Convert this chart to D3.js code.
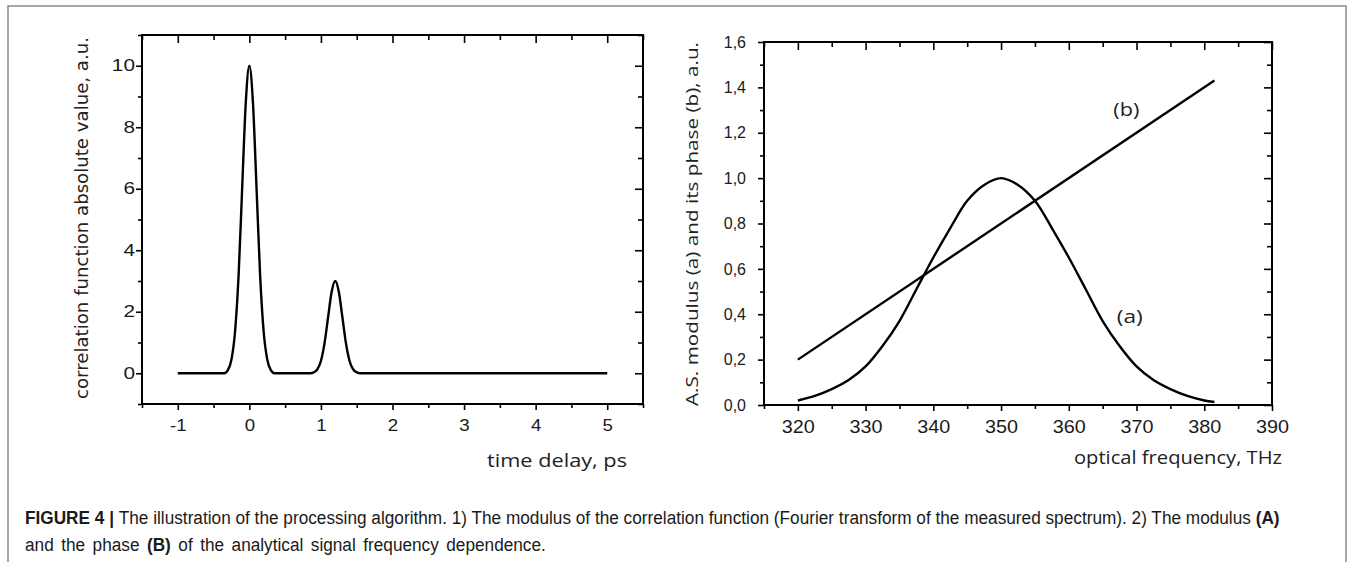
<!DOCTYPE html>
<html>
<head>
<meta charset="utf-8">
<script src="https://cdn.jsdelivr.net/npm/d3@7"></script>
<style>
  body { margin: 0; background: #fff; }
  svg { display: block; }
</style>
</head>
<body>
<svg id="mainSvg" width="1354" height="562"></svg>
<script>
// ---- left panel: |correlation function| vs time delay ----
var corrTime  = [-1, -0.35, -0.3, -0.25, -0.2, -0.15, -0.1, -0.05, 0, 0.05, 0.1, 0.15, 0.2, 0.25, 0.3, 0.35,
                 0.85, 0.9, 0.95, 1.0, 1.05, 1.1, 1.15, 1.2, 1.25, 1.3, 1.35, 1.4, 1.45, 1.5, 1.55, 5];
var corrValue = [0, 0, 0.1, 0.45, 1.35, 3.2, 6.05, 8.8, 10, 8.8, 6.05, 3.2, 1.35, 0.45, 0.1, 0,
                 0, 0.03, 0.13, 0.4, 0.97, 1.82, 2.65, 3.0, 2.65, 1.82, 0.97, 0.4, 0.13, 0.03, 0, 0];
var corrXTicks = [-1, 0, 1, 2, 3, 4, 5];
var corrXMinor = [-1.5, -0.5, 0.5, 1.5, 2.5, 3.5, 4.5, 5.5];
var corrYTicks = [0, 2, 4, 6, 8, 10];
var corrYMinor = [-1, 1, 3, 5, 7, 9, 11];

// ---- right panel: analytical signal modulus (a) and phase (b) ----
var freq    = [320, 322.5, 325, 327.5, 330, 332.5, 335, 337.5, 340, 342.5, 345, 347.5, 350,
               352.5, 355, 357.5, 360, 362.5, 365, 367.5, 370, 372.5, 375, 377.5, 380, 381.5];
var modulus = [0.02, 0.04, 0.07, 0.11, 0.17, 0.26, 0.37, 0.51, 0.65, 0.78, 0.9, 0.97, 1.0,
               0.97, 0.9, 0.78, 0.65, 0.51, 0.37, 0.26, 0.17, 0.11, 0.07, 0.04, 0.02, 0.013];
var phaseFreq = [320, 381.5];
var phase     = [0.2, 1.43];
var freqTicks = [320, 330, 340, 350, 360, 370, 380, 390];
var freqMinor = [315, 325, 335, 345, 355, 365, 375, 385];
var asYTicks  = [0, 0.2, 0.4, 0.6, 0.8, 1.0, 1.2, 1.4, 1.6];
var asYLabels = ["0,0", "0,2", "0,4", "0,6", "0,8", "1,0", "1,2", "1,4", "1,6"];
var asYMinor  = [0.1, 0.3, 0.5, 0.7, 0.9, 1.1, 1.3, 1.5];
var curveLabels = [{ text: "(b)", f: 368.5, v: 1.3 }, { text: "(a)", f: 369, v: 0.39 }];

var svg = d3.select("#mainSvg");

// figure box
svg.append("rect")
  .attr("x", 8).attr("y", 6)
  .attr("width", 1338).attr("height", 600)
  .attr("fill", "none").attr("stroke", "#8a8a8a").attr("stroke-width", 1.5);

var plain = function(d) { return String(d); };  // keeps "-1" with a hyphen like the original

// draws the 4 sided frame with ticks, ticks outward on left/bottom, inward on top/right
// (the scanned original is a bit stretched sideways, so labels get a horizontal scale)
function drawFrame(g, x, y, o) {
  var x0 = x.range()[0], x1 = x.range()[1], y0 = y.range()[0], y1 = y.range()[1];

  var bottom = g.append("g").attr("transform", "translate(0," + y0 + ")")
    .call(d3.axisBottom(x).tickValues(o.xTicks).tickSize(6).tickSizeOuter(0).tickPadding(o.xPad)
      .tickFormat(o.xFormat));
  bottom.selectAll("text").style("font-size", o.xFont + "px")
    .attr("transform", "scale(" + o.xStretch + ",1)");
  g.append("g").attr("transform", "translate(0," + y0 + ")")
    .call(d3.axisBottom(x).tickValues(o.xMinor).tickSize(4).tickSizeOuter(0).tickFormat(""));

  var left = g.append("g").attr("transform", "translate(" + x0 + ",0)")
    .call(d3.axisLeft(y).tickValues(o.yTicks).tickSize(6).tickSizeOuter(0).tickPadding(o.yPad)
      .tickFormat(o.yFormat));
  left.selectAll("text").style("font-size", o.yFont + "px")
    .attr("x", -(6 + o.yPad) / o.yStretch)
    .attr("transform", "scale(" + o.yStretch + ",1)");
  g.append("g").attr("transform", "translate(" + x0 + ",0)")
    .call(d3.axisLeft(y).tickValues(o.yMinor).tickSize(4).tickSizeOuter(0).tickFormat(""));

  g.append("g").attr("transform", "translate(0," + y1 + ")")
    .call(d3.axisTop(x).tickValues(o.xTicks).tickSize(-8).tickSizeOuter(0).tickFormat(""));
  g.append("g").attr("transform", "translate(0," + y1 + ")")
    .call(d3.axisTop(x).tickValues(o.xMinor).tickSize(-5).tickSizeOuter(0).tickFormat(""));
  g.append("g").attr("transform", "translate(" + x1 + ",0)")
    .call(d3.axisRight(y).tickValues(o.yTicks).tickSize(-8).tickSizeOuter(0).tickFormat(""));
  g.append("g").attr("transform", "translate(" + x1 + ",0)")
    .call(d3.axisRight(y).tickValues(o.yMinor).tickSize(-5).tickSizeOuter(0).tickFormat(""));

  g.selectAll(".domain").remove();
  g.selectAll(".tick line").attr("stroke", "#000").attr("stroke-width", 1.6);
  g.selectAll(".tick text").attr("fill", "#1a1a1a").style("font-family", "'Liberation Sans', Arial, sans-serif");

  g.append("rect")
    .attr("x", x0).attr("y", y1)
    .attr("width", x1 - x0).attr("height", y0 - y1)
    .attr("fill", "none").attr("stroke", "#000").attr("stroke-width", 2);
}

// ---- left chart ----
var xL = d3.scaleLinear().domain([-1.5, 5.5]).range([142, 643]);
var yL = d3.scaleLinear().domain([-1, 11]).range([404, 35]);
var gL = svg.append("g").attr("class", "leftChart");

drawFrame(gL, xL, yL, {
  xTicks: corrXTicks, xMinor: corrXMinor, xFormat: plain, xPad: 9, xFont: 17, xStretch: 1.1,
  yTicks: corrYTicks, yMinor: corrYMinor, yFormat: plain, yPad: 1, yFont: 16, yStretch: 1.3
});

gL.append("path")
  .datum(d3.zip(corrTime, corrValue))
  .attr("fill", "none").attr("stroke", "#000").attr("stroke-width", 2.4)
  .attr("d", d3.line().x(function(d) { return xL(d[0]); }).y(function(d) { return yL(d[1]); })
    .curve(d3.curveMonotoneX));

gL.append("text")
  .attr("transform", "translate(88,218) rotate(-90)")
  .attr("text-anchor", "middle")
  .attr("textLength", 362).attr("lengthAdjust", "spacingAndGlyphs")
  .style("font-family", "'DejaVu Sans', sans-serif").style("font-size", "17px").attr("fill", "#222")
  .text("correlation function absolute value, a.u.");

gL.append("text")
  .attr("x", 627).attr("y", 467)
  .attr("text-anchor", "end")
  .attr("textLength", 140).attr("lengthAdjust", "spacingAndGlyphs")
  .style("font-family", "'Open Sans', sans-serif").style("font-size", "19px").attr("fill", "#222")
  .text("time delay, ps");

// ---- right chart ----
var xR = d3.scaleLinear().domain([315, 390]).range([764, 1272]);
var yR = d3.scaleLinear().domain([0, 1.6]).range([405, 42]);
var gR = svg.append("g").attr("class", "rightChart");

drawFrame(gR, xR, yR, {
  xTicks: freqTicks, xMinor: freqMinor, xFormat: plain, xPad: 9, xFont: 18, xStretch: 1.1,
  yTicks: asYTicks, yMinor: asYMinor, yFormat: function(d, i) { return asYLabels[i]; },
  yPad: 12, yFont: 16, yStretch: 1
});

gR.append("path")
  .datum(d3.zip(freq, modulus))
  .attr("fill", "none").attr("stroke", "#000").attr("stroke-width", 2.4)
  .attr("d", d3.line().x(function(d) { return xR(d[0]); }).y(function(d) { return yR(d[1]); })
    .curve(d3.curveCatmullRom));

gR.append("path")
  .datum(d3.zip(phaseFreq, phase))
  .attr("fill", "none").attr("stroke", "#000").attr("stroke-width", 2.4)
  .attr("d", d3.line().x(function(d) { return xR(d[0]); }).y(function(d) { return yR(d[1]); }));

gR.selectAll(".curveLabel")
  .data(curveLabels)
  .enter().append("text")
  .attr("class", "curveLabel")
  .attr("x", function(d) { return xR(d.f); })
  .attr("y", function(d) { return yR(d.v); })
  .attr("dy", "0.35em")
  .attr("text-anchor", "middle")
  .attr("textLength", 26).attr("lengthAdjust", "spacingAndGlyphs")
  .style("font-family", "'Open Sans', sans-serif").style("font-size", "18px").attr("fill", "#222")
  .text(function(d) { return d.text; });

gR.append("text")
  .attr("transform", "translate(698,224) rotate(-90)")
  .attr("text-anchor", "middle")
  .attr("textLength", 364).attr("lengthAdjust", "spacingAndGlyphs")
  .style("font-family", "'Open Sans', sans-serif").style("font-size", "17px").attr("fill", "#222")
  .text("A.S. modulus (a) and its phase (b), a.u.");

gR.append("text")
  .attr("x", 1282).attr("y", 464)
  .attr("text-anchor", "end")
  .attr("textLength", 208).attr("lengthAdjust", "spacingAndGlyphs")
  .style("font-family", "'Open Sans', sans-serif").style("font-size", "19px").attr("fill", "#222")
  .text("optical frequency, THz");

// ---- caption (condensed face: squeeze horizontally to the original width) ----
var capFont = "'Liberation Sans Narrow', 'Liberation Sans', Arial, sans-serif";
var cap1 = svg.append("text")
  .style("font-family", capFont).style("font-size", "19px").attr("fill", "#1a1a1a");
cap1.append("tspan").style("font-weight", "bold").text("FIGURE 4 | ");
cap1.append("tspan").text("The illustration of the processing algorithm. 1) The modulus of the correlation function (Fourier transform of the measured spectrum). 2) The modulus ");
cap1.append("tspan").style("font-weight", "bold").text("(A)");
var squeeze = 1255 / cap1.node().getComputedTextLength();
cap1.attr("transform", "translate(25,524) scale(" + squeeze + ",1)");

var cap2 = svg.append("text")
  .style("font-family", capFont).style("font-size", "19px").attr("fill", "#1a1a1a");
cap2.append("tspan").text("and the phase ");
cap2.append("tspan").style("font-weight", "bold").text("(B)");
cap2.append("tspan").text(" of the analytical signal frequency dependence.");
var extra = (521 / squeeze - cap2.node().getComputedTextLength()) / 9;
cap2.style("word-spacing", Math.max(0, extra) + "px")
  .attr("transform", "translate(25,551) scale(" + squeeze + ",1)");
</script>
</body>
</html>
